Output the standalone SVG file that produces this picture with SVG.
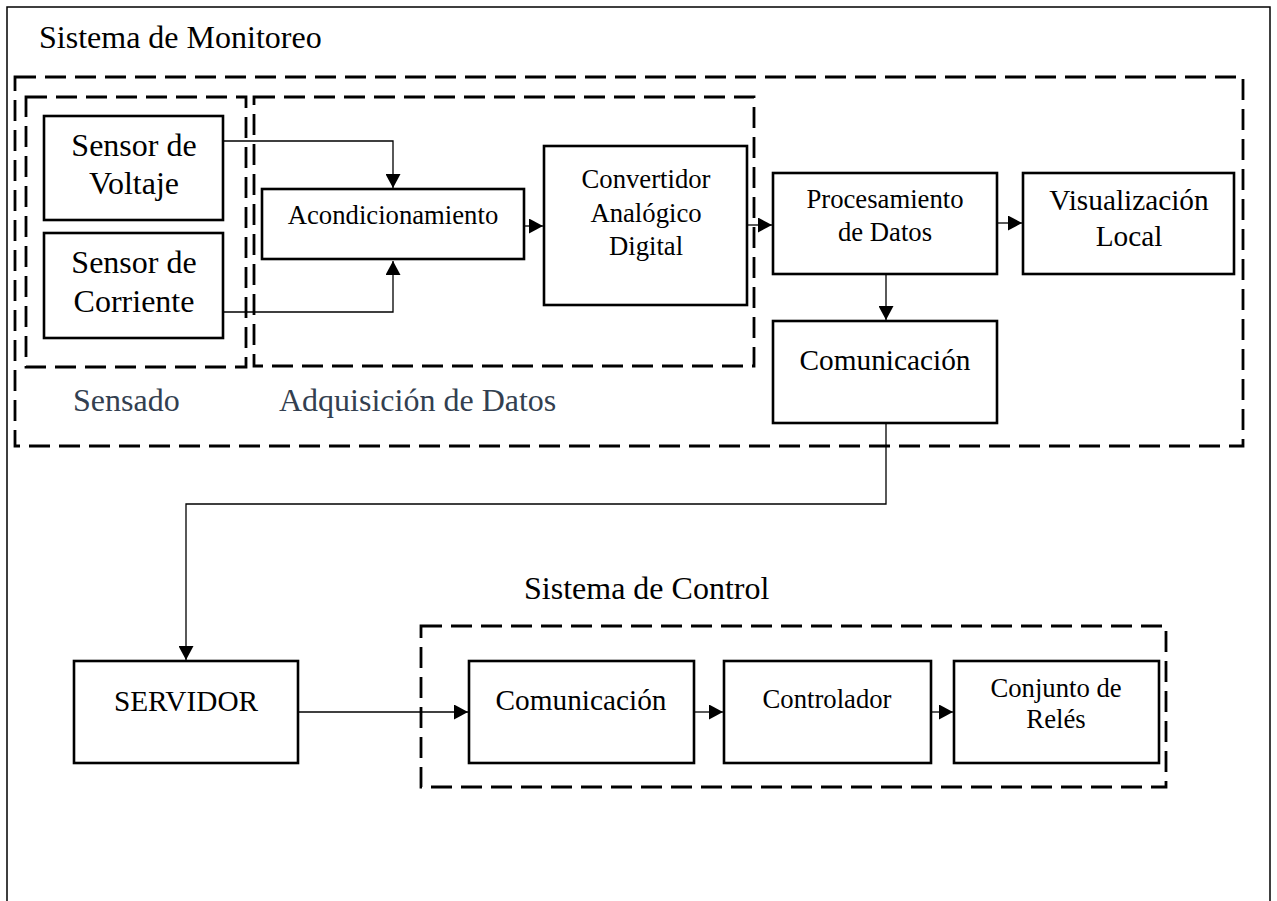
<svg xmlns="http://www.w3.org/2000/svg" width="1277" height="901" viewBox="0 0 1277 901">
  <style>
    .frame { fill: none; stroke: #000; stroke-width: 1.5; }
    .group { fill: none; stroke: #000; stroke-width: 2.8; stroke-dasharray: 21 9; }
    .box { fill: #fff; stroke: #000; stroke-width: 2.6; }
    .wire { fill: none; stroke: #000; stroke-width: 1.3; }
    .t { font-family: "Liberation Serif", "Times New Roman", serif; fill: #000; text-anchor: middle; }
    .title { font-family: "Liberation Serif", "Times New Roman", serif; fill: #000; font-size: 32px; }
    .label { font-family: "Liberation Serif", "Times New Roman", serif; fill: #333f50; font-size: 32px; }
    .l { font-size: 32px; }
    .m { font-size: 29.3px; }
    .s { font-size: 26.7px; }
  </style>
  <defs>
    <marker id="arrow" markerUnits="userSpaceOnUse" markerWidth="15" markerHeight="15" refX="14" refY="7.5" orient="auto">
      <path d="M0,0 L14,7.5 L0,15 z" fill="#000"/>
    </marker>
  </defs>

  <rect width="1277" height="901" fill="#fff"/>

  <!-- outer page frame (open at the bottom) -->
  <rect class="frame" x="7" y="7" width="1263" height="920"/>

  <!-- grouping outlines -->
  <g id="monitoring-group">
    <text class="title" x="39" y="48">Sistema de Monitoreo</text>
    <rect class="group" x="15" y="77" width="1228" height="369"/>
  </g>
  <g id="sensing-group">
    <rect class="group" x="26" y="97" width="220" height="270"/>
    <text class="label" x="73" y="411">Sensado</text>
  </g>
  <g id="acquisition-group">
    <rect class="group" x="254" y="97" width="500" height="269"/>
    <text class="label" x="279" y="411">Adquisición de Datos</text>
  </g>
  <g id="control-group">
    <text class="title" x="524" y="599">Sistema de Control</text>
    <rect class="group" x="421" y="626" width="745" height="161"/>
  </g>

  <!-- connectors -->
  <g id="connectors">
    <polyline class="wire" points="224,141 393,141 393,188" marker-end="url(#arrow)"/>
    <polyline class="wire" points="224,312 393,312 393,261" marker-end="url(#arrow)"/>
    <line class="wire" x1="524" y1="226" x2="543" y2="226" marker-end="url(#arrow)"/>
    <line class="wire" x1="747" y1="225" x2="772" y2="225" marker-end="url(#arrow)"/>
    <line class="wire" x1="997" y1="223" x2="1022" y2="223" marker-end="url(#arrow)"/>
    <line class="wire" x1="886" y1="274" x2="886" y2="320" marker-end="url(#arrow)"/>
    <polyline class="wire" points="886,423 886,504 186,504 186,660" marker-end="url(#arrow)"/>
    <line class="wire" x1="298" y1="712" x2="468" y2="712" marker-end="url(#arrow)"/>
    <line class="wire" x1="694" y1="712" x2="723" y2="712" marker-end="url(#arrow)"/>
    <line class="wire" x1="931" y1="712" x2="953" y2="712" marker-end="url(#arrow)"/>
  </g>

  <!-- nodes -->
  <g id="sensor-voltaje">
    <rect class="box" x="44" y="116" width="179" height="104"/>
    <text class="t l" x="134" y="156">Sensor de</text>
    <text class="t l" x="134" y="194">Voltaje</text>
  </g>
  <g id="sensor-corriente">
    <rect class="box" x="44" y="233" width="179" height="105"/>
    <text class="t l" x="134" y="273">Sensor de</text>
    <text class="t l" x="134" y="312">Corriente</text>
  </g>
  <g id="acondicionamiento">
    <rect class="box" x="262" y="189" width="262" height="70"/>
    <text class="t s" x="393" y="224">Acondicionamiento</text>
  </g>
  <g id="convertidor">
    <rect class="box" x="544" y="146" width="203" height="159"/>
    <text class="t s" x="646" y="188">Convertidor</text>
    <text class="t s" x="646" y="222">Analógico</text>
    <text class="t s" x="646" y="255">Digital</text>
  </g>
  <g id="procesamiento">
    <rect class="box" x="773" y="173" width="224" height="101"/>
    <text class="t s" x="885" y="208">Procesamiento</text>
    <text class="t s" x="885" y="241">de Datos</text>
  </g>
  <g id="visualizacion">
    <rect class="box" x="1023" y="173" width="211" height="101"/>
    <text class="t m" x="1129" y="210">Visualización</text>
    <text class="t m" x="1129" y="246">Local</text>
  </g>
  <g id="comunicacion-monitoreo">
    <rect class="box" x="773" y="321" width="224" height="102"/>
    <text class="t m" x="885" y="370">Comunicación</text>
  </g>
  <g id="servidor">
    <rect class="box" x="74" y="661" width="224" height="102"/>
    <text class="t m" x="186" y="711">SERVIDOR</text>
  </g>
  <g id="comunicacion-control">
    <rect class="box" x="469" y="661" width="225" height="102"/>
    <text class="t m" x="581" y="710">Comunicación</text>
  </g>
  <g id="controlador">
    <rect class="box" x="724" y="661" width="207" height="102"/>
    <text class="t s" x="827" y="708">Controlador</text>
  </g>
  <g id="conjunto-reles">
    <rect class="box" x="954" y="661" width="205" height="102"/>
    <text class="t s" x="1056" y="697">Conjunto de</text>
    <text class="t s" x="1056" y="728">Relés</text>
  </g>
</svg>
